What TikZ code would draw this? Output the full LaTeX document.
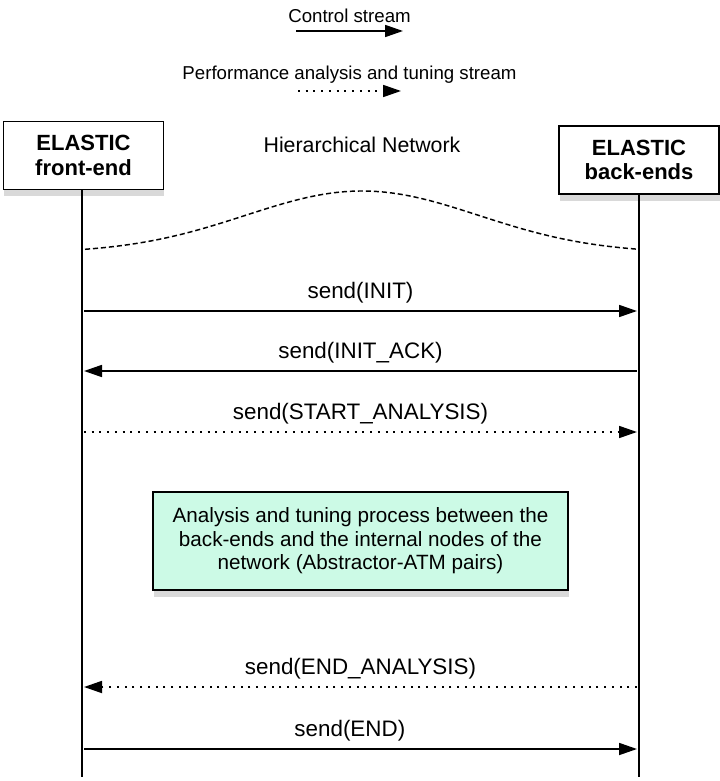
\documentclass[tikz,border=0pt]{standalone}
\usepackage{fontspec}
\setmainfont{Liberation Sans}
\usetikzlibrary{arrows.meta,shadows}
\definecolor{mint}{RGB}{204,250,230}

\begin{document}
\begin{tikzpicture}[x=0.75pt,y=-0.75pt]

  \tikzstyle{actor} = [draw, line width=1.2, fill=white, minimum width=120pt, minimum height=51pt, align=center, font=\bfseries\fontsize{16.5}{18.5}\selectfont, drop shadow={shadow xshift=0.5pt, shadow yshift=-5pt, opacity=0.3}]
  \tikzstyle{note} = [actor, fill=mint, minimum width=311pt, minimum height=73.5pt, font=\fontsize{15.5}{17.6}\selectfont]
  \tikzstyle{life} = [line width=2.2]
  \tikzstyle{ctrl} = [line width=1.3, -{Triangle[length=13.5pt,width=9pt]}]
  \tikzstyle{perf} = [ctrl, dash pattern=on 1.5pt off 4.3pt]
  \tikzstyle{msg} = [above=2pt, font=\fontsize{16.8}{19}\selectfont]
  \tikzstyle{legend} = [above=2pt, font=\fontsize{14}{16}\selectfont]

  \useasboundingbox (0,0) rectangle (719,781);

  % legend
  \coordinate (c1) at (296,31);
  \coordinate (c2) at (403,31);
  \coordinate (p1) at (298,91);
  \coordinate (p2) at (401,91);
  \draw[ctrl] (c1) -- (c2) node[legend, midway] {Control stream};
  \draw[perf] (p1) -- (p2) node[legend, midway] {Performance analysis and tuning stream};

  % front-end and back-ends
  \node[actor] (fe) at (83.5,155.5) {ELASTIC\\front-end};
  \node[actor] (be) at (639,160) {ELASTIC\\back-ends};
  \coordinate (fe-end) at (82,777);
  \coordinate (be-end) at (639,777);
  \draw[life] (fe.south -| fe-end) -- (fe-end);
  \draw[life] (be.south -| be-end) -- (be-end);

  \node[font=\fontsize{16}{18}\selectfont] (net) at (362,145) {Hierarchical Network};
  \draw[line width=1.1, dash pattern=on 3.8pt off 2.2pt] plot[domain=85:636, samples=60, smooth] (\x, {253-62*exp(-((\x-362)/165)^2)});

  \foreach \n/\y in {init/311, ack/371, start/432, stop/687, fin/749} {
    \coordinate (fe-\n) at (84,\y);
    \coordinate (be-\n) at (637,\y);
  }

  \draw[ctrl] (fe-init) -- (be-init) node[msg, midway] {send(INIT)};
  \draw[ctrl] (be-ack) -- (fe-ack) node[msg, midway] {send(INIT\_ACK)};
  \draw[perf] (fe-start) -- (be-start) node[msg, midway] {send(START\_ANALYSIS)};

  \node[note] (work) at (360.5,541) {Analysis and tuning process between the\\back-ends and the internal nodes of the\\network (Abstractor-ATM pairs)};

  \draw[perf] (be-stop) -- (fe-stop) node[msg, midway] {send(END\_ANALYSIS)};
  \draw[ctrl] (fe-fin) -- (be-fin) node[msg, midway, xshift=-8pt] {send(END)};

\end{tikzpicture}
\end{document}
